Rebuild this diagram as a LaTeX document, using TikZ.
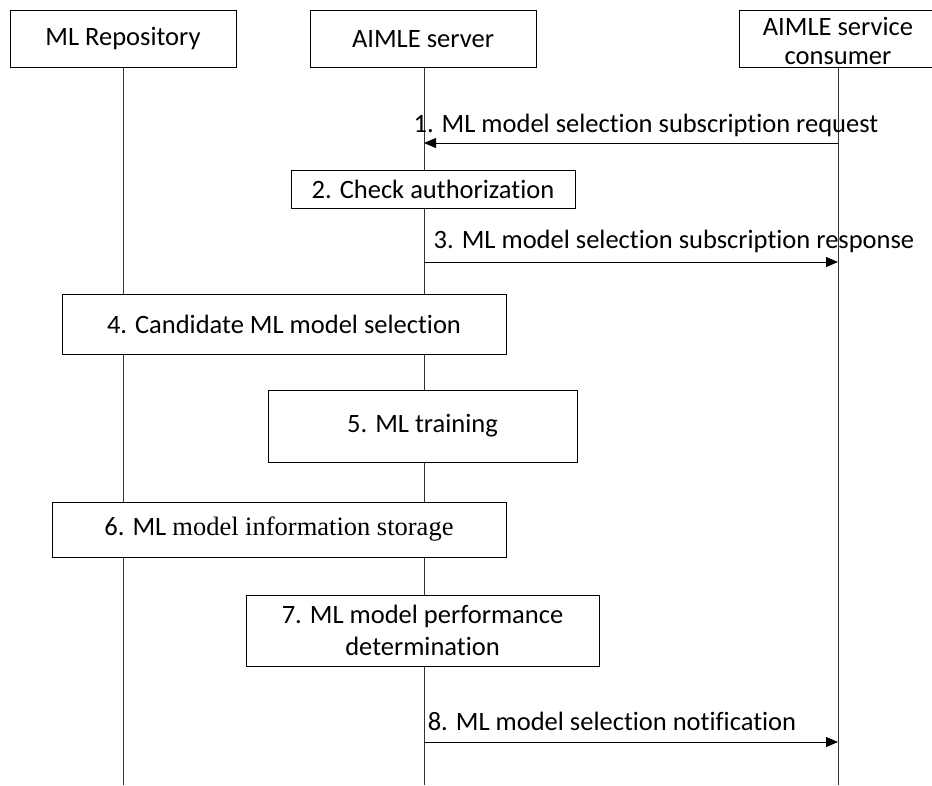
\documentclass[tikz,border=0pt]{standalone}
\usepackage{fontspec}
\setmainfont{Carlito}[Ligatures=NoCommon]
\newfontfamily\serifpart{Liberation Serif}
\usetikzlibrary{arrows.meta}
\begin{document}
\begin{tikzpicture}[x=1pt,y=-1pt,
  every node/.style={font=\fontsize{26.5}{32}\selectfont},
  box/.style={draw=black,fill=white,line width=0.8pt,inner sep=0pt,align=center},
  life/.style={draw=black!80,line width=0.8pt},
  msg/.style={draw=black,line width=0.8pt,-{Triangle[length=12pt,width=10pt]}},
  lbl/.style={inner sep=0pt,anchor=center,align=center}]
\useasboundingbox (0,0) rectangle (932,785);
\clip (0,0) rectangle (932,785);
% head boxes
\node[box,minimum width=226pt,minimum height=57pt] (repo) at (123,39) {ML Repository};
\node[box,minimum width=198pt,minimum height=57pt] (con) at (838,38.5) {};
\node[lbl] (conT) at (838,41) {AIMLE service\\[-3pt]consumer};
\node[box,minimum width=226pt,minimum height=57pt] (srv) at (423,39) {AIMLE server};
\coordinate (repoEnd) at (123,785);
\coordinate (srvEnd) at (424,785);
\coordinate (conEnd) at (838,785);
\draw[life] (repo.south) -- (repoEnd);
\draw[life] (srv.south -| srvEnd) -- (srvEnd);
\draw[life] (con.south) -- (conEnd);
% step boxes
\node[box,minimum width=284pt,minimum height=38pt] (b2) at (433,189) {2. Check authorization};
\node[box,minimum width=444pt,minimum height=60pt] (b4) at (284,324) {4. Candidate ML model selection};
\node[box,minimum width=309pt,minimum height=72pt] (b5) at (422.5,426) {5. ML training};
\node[box,minimum width=454pt,minimum height=55pt] (b6) at (279,529.5) {6. ML {\serifpart model information storage}};
\node[box,minimum width=353pt,minimum height=71pt] (b7) at (422.5,630.5) {7. ML model performance\\[0pt]determination};
% messages
\coordinate (s1) at (424,143); \coordinate (c1) at (838,143);
\coordinate (s3) at (424,262); \coordinate (c3) at (838,262);
\coordinate (s8) at (424,742); \coordinate (c8) at (838,742);
\draw[msg] (c1) -- (s1);
\draw[msg] (s3) -- (c3);
\draw[msg] (s8) -- (c8);
\node[lbl] (l1) at (646,125) {1. ML model selection subscription request};
\node[lbl] (l3) at (674,241) {3. ML model selection subscription response};
\node[lbl] (l8) at (612,721) {8. ML model selection notification};
\end{tikzpicture}
\end{document}
